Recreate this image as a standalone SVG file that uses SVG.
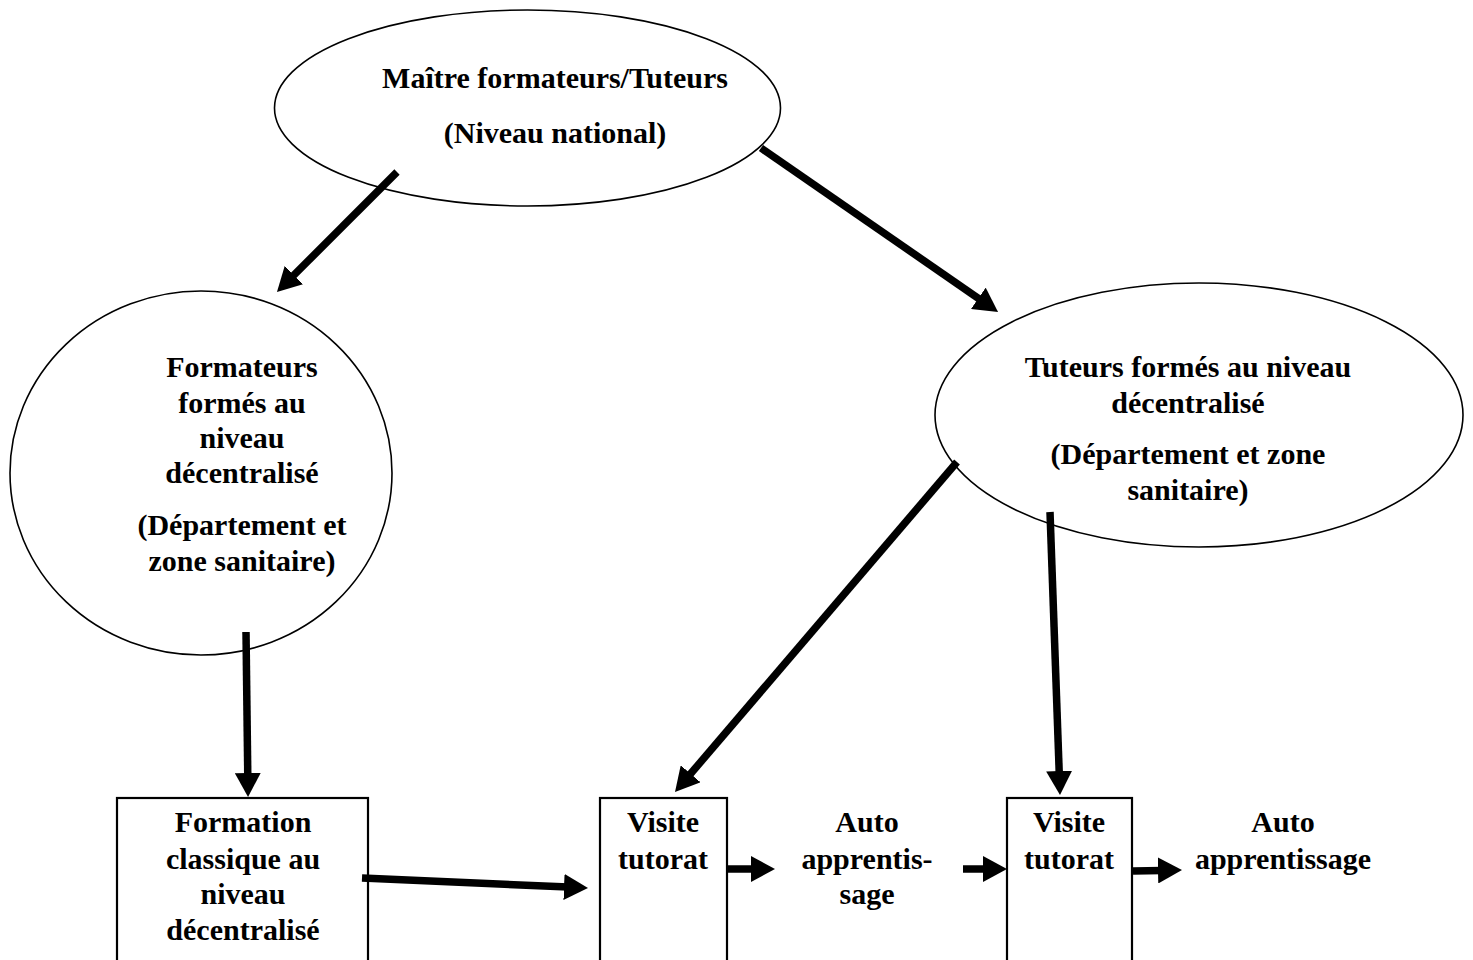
<svg xmlns="http://www.w3.org/2000/svg" width="1473" height="960" viewBox="0 0 1473 960">
<style>
.shape{fill:#fff;stroke:#000;stroke-width:1.6}
.box{fill:#fff;stroke:#000;stroke-width:2.2}
.t{font-family:"Liberation Serif","Times New Roman",serif;font-weight:bold;font-size:30px;fill:#000;text-anchor:middle}
.c{stroke:#000;stroke-width:7.5;fill:none;marker-end:url(#ah)}
</style>
<defs>
<marker id="ah" markerUnits="userSpaceOnUse" markerWidth="24" markerHeight="26" viewBox="0 0 24 26" refX="4" refY="13" orient="auto">
<path d="M0,0 L24,13 L0,26 z" fill="#000"/>
</marker>
</defs>
<rect width="1473" height="960" fill="#fff"/>
<g id="n-maitre">
<ellipse class="shape" cx="527.5" cy="108" rx="253" ry="98"/>
<text class="t" x="555" y="88">Maître formateurs/Tuteurs</text>
<text class="t" x="555" y="143">(Niveau national)</text>
</g>
<g id="n-formateurs">
<ellipse class="shape" cx="201" cy="473" rx="191" ry="182"/>
<text class="t" x="242" y="377">Formateurs</text>
<text class="t" x="242" y="413">formés au</text>
<text class="t" x="242" y="448">niveau</text>
<text class="t" x="242" y="483">décentralisé</text>
<text class="t" x="242" y="535">(Département et</text>
<text class="t" x="242" y="571">zone sanitaire)</text>
</g>
<g id="n-tuteurs">
<ellipse class="shape" cx="1199" cy="415" rx="264" ry="132"/>
<text class="t" x="1188" y="377">Tuteurs formés au niveau</text>
<text class="t" x="1188" y="413">décentralisé</text>
<text class="t" x="1188" y="464">(Département et zone</text>
<text class="t" x="1188" y="500">sanitaire)</text>
</g>
<g id="n-formation">
<rect class="box" x="117" y="798" width="251" height="190"/>
<text class="t" x="243" y="832">Formation</text>
<text class="t" x="243" y="869">classique au</text>
<text class="t" x="243" y="904">niveau</text>
<text class="t" x="243" y="940">décentralisé</text>
</g>
<g id="n-visite1">
<rect class="box" x="600" y="798" width="127" height="190"/>
<text class="t" x="663" y="832">Visite</text>
<text class="t" x="663" y="869">tutorat</text>
</g>
<g id="n-auto1">
<text class="t" x="867" y="832">Auto</text>
<text class="t" x="867" y="869">apprentis-</text>
<text class="t" x="867" y="904">sage</text>
</g>
<g id="n-visite2">
<rect class="box" x="1007" y="798" width="125" height="190"/>
<text class="t" x="1069" y="832">Visite</text>
<text class="t" x="1069" y="869">tutorat</text>
</g>
<g id="n-auto2">
<text class="t" x="1283" y="832">Auto</text>
<text class="t" x="1283" y="869">apprentissage</text>
</g>
<g id="connectors">
<line class="c" x1="397" y1="172" x2="291.1" y2="277.9"/>
<line class="c" x1="761" y1="148" x2="981.6" y2="300.6"/>
<line class="c" x1="246" y1="632" x2="247.8" y2="777"/>
<line class="c" x1="957" y1="462" x2="688" y2="776.8"/>
<line class="c" x1="1050" y1="512" x2="1059.3" y2="775"/>
<line class="c" x1="362" y1="878" x2="568" y2="887.1"/>
<line class="c" x1="727" y1="869" x2="755" y2="869"/>
<line class="c" x1="963" y1="869" x2="987" y2="869"/>
<line class="c" x1="1133" y1="871" x2="1162" y2="870.4"/>
</g>
</svg>
